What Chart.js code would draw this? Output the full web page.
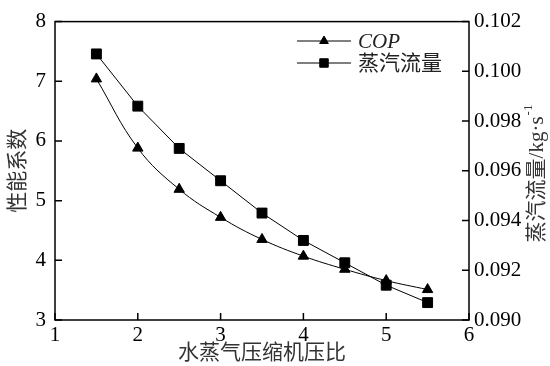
<!DOCTYPE html>
<html lang="zh">
<head>
    <meta charset="UTF-8">
    <title>COP 与蒸汽流量</title>
    <style>
        body { margin: 0; background: #fff; }
        .container { width: 550px; height: 366px; }
    </style>
</head>
<body>
    <div class="container">
        <canvas id="myChart"></canvas>
    </div>
    <script src="https://cdn.jsdelivr.net/npm/chart.js"></script>
    <script>
        // 压比
        const pressureRatio = [1.5, 2, 2.5, 3, 3.5, 4, 4.5, 5, 5.5];
        // 性能系数 COP
        const copValues = [7.04, 5.88, 5.19, 4.72, 4.35, 4.07, 3.85, 3.66, 3.51];
        // 蒸汽流量 kg/s
        const flowValues = [0.1007, 0.0986, 0.0969, 0.0956, 0.0943, 0.0932, 0.0923, 0.0914, 0.0907];

        const seriesNames = ['COP', '蒸汽流量'];
        const xTitle = '水蒸气压缩机压比';
        const yTitle = '性能系数';
        const y1Title = '蒸汽流量/kg·s';

        const serif = '"Times New Roman", "Liberation Serif", "Noto Sans CJK SC", serif';
        const cjk = '"Times New Roman", "Liberation Serif", "Noto Sans CJK SC", sans-serif';

        // 边框、向内刻度、图例和右侧标题
        const decorations = {
            id: 'decorations',
            afterDraw(chart) {
                const ctx = chart.ctx;
                const a = chart.chartArea;
                ctx.save();
                ctx.strokeStyle = '#000';
                ctx.lineWidth = 1.5;
                ctx.strokeRect(a.left, a.top, a.right - a.left, a.bottom - a.top);

                const len = 7;
                ctx.beginPath();
                chart.scales.x.ticks.forEach(t => {
                    const px = chart.scales.x.getPixelForValue(t.value);
                    ctx.moveTo(px, a.bottom);
                    ctx.lineTo(px, a.bottom - len);
                });
                chart.scales.y.ticks.forEach(t => {
                    const py = chart.scales.y.getPixelForValue(t.value);
                    ctx.moveTo(a.left, py);
                    ctx.lineTo(a.left + len, py);
                });
                chart.scales.y1.ticks.forEach(t => {
                    const py = chart.scales.y1.getPixelForValue(t.value);
                    ctx.moveTo(a.right, py);
                    ctx.lineTo(a.right - len, py);
                });
                ctx.stroke();

                // 图例
                const rows = [41, 63];
                chart.data.datasets.forEach((ds, i) => {
                    const y = rows[i];
                    ctx.lineWidth = 1;
                    ctx.beginPath();
                    ctx.moveTo(297, y);
                    ctx.lineTo(351, y);
                    ctx.stroke();
                    ctx.fillStyle = '#000';
                    Chart.helpers.drawPoint(ctx, {
                        pointStyle: ds.pointStyle,
                        rotation: 0,
                        radius: ds.pointRadius - 1,
                        borderWidth: 1
                    }, 324, y);
                    ctx.fillStyle = '#222';
                    ctx.textAlign = 'left';
                    ctx.textBaseline = 'middle';
                    ctx.font = (i === 0 ? 'italic ' : '') + '21px ' + cjk;
                    ctx.fillText(ds.label, 358, y + 1);
                });

                // 右侧坐标轴标题（自下而上）
                ctx.translate(537, 174);
                ctx.rotate(-Math.PI / 2);
                ctx.font = '21px ' + cjk;
                const main = ctx.measureText(y1Title).width;
                ctx.font = '13px ' + serif;
                const sup = ctx.measureText('-1').width;
                const start = -(main + sup) / 2;
                ctx.fillStyle = '#333';
                ctx.textAlign = 'left';
                ctx.textBaseline = 'middle';
                ctx.font = '21px ' + cjk;
                ctx.fillText(y1Title, start, 0);
                ctx.font = '13px ' + serif;
                ctx.fillText('-1', start + main + 1, -8);
                ctx.restore();
            }
        };

        const ctx = document.getElementById('myChart').getContext('2d');

        const tickFont = { family: serif, size: 21 };

        new Chart(ctx, {
            type: 'line',
            data: {
                datasets: [
                    {
                        label: seriesNames[0],
                        data: pressureRatio.map((x, i) => ({ x: x, y: copValues[i] })),
                        yAxisID: 'y',
                        borderColor: '#000',
                        backgroundColor: '#000',
                        borderWidth: 1,
                        pointStyle: 'triangle',
                        pointRadius: 6,
                        tension: 0.4,
                        fill: false
                    },
                    {
                        label: seriesNames[1],
                        data: pressureRatio.map((x, i) => ({ x: x, y: flowValues[i] })),
                        yAxisID: 'y1',
                        borderColor: '#000',
                        backgroundColor: '#000',
                        borderWidth: 1,
                        pointStyle: 'rect',
                        pointRadius: 7,
                        tension: 0,
                        fill: false
                    }
                ]
            },
            options: {
                responsive: true,
                maintainAspectRatio: false,
                animation: false,
                layout: { padding: { top: 19 } },
                plugins: {
                    legend: { display: false },
                    tooltip: { enabled: false }
                },
                scales: {
                    x: {
                        type: 'linear',
                        min: 1,
                        max: 6,
                        grid: { display: false, drawTicks: false },
                        border: { display: false },
                        ticks: { stepSize: 1, color: '#000', font: tickFont, padding: 3, maxRotation: 0 },
                        title: {
                            display: true,
                            text: xTitle,
                            color: '#333',
                            font: { family: cjk, size: 21 },
                            padding: { top: 0, bottom: 0 }
                        },
                        afterFit(scale) { scale.height = 46; }
                    },
                    y: {
                        position: 'left',
                        min: 3,
                        max: 8,
                        grid: { display: false, drawTicks: false },
                        border: { display: false },
                        ticks: { stepSize: 1, color: '#000', font: tickFont, padding: 9 },
                        title: {
                            display: true,
                            text: yTitle,
                            color: '#333',
                            font: { family: cjk, size: 21 },
                            padding: { top: 6, bottom: 0 }
                        },
                        afterFit(scale) { scale.width = 55; }
                    },
                    y1: {
                        position: 'right',
                        min: 0.090,
                        max: 0.102,
                        grid: { display: false, drawTicks: false },
                        border: { display: false },
                        ticks: {
                            stepSize: 0.002,
                            color: '#000',
                            font: tickFont,
                            padding: 5,
                            callback: v => v.toFixed(3)
                        },
                        afterFit(scale) { scale.width = 81; }
                    }
                }
            },
            plugins: [decorations]
        });
    </script>
</body>
</html>
